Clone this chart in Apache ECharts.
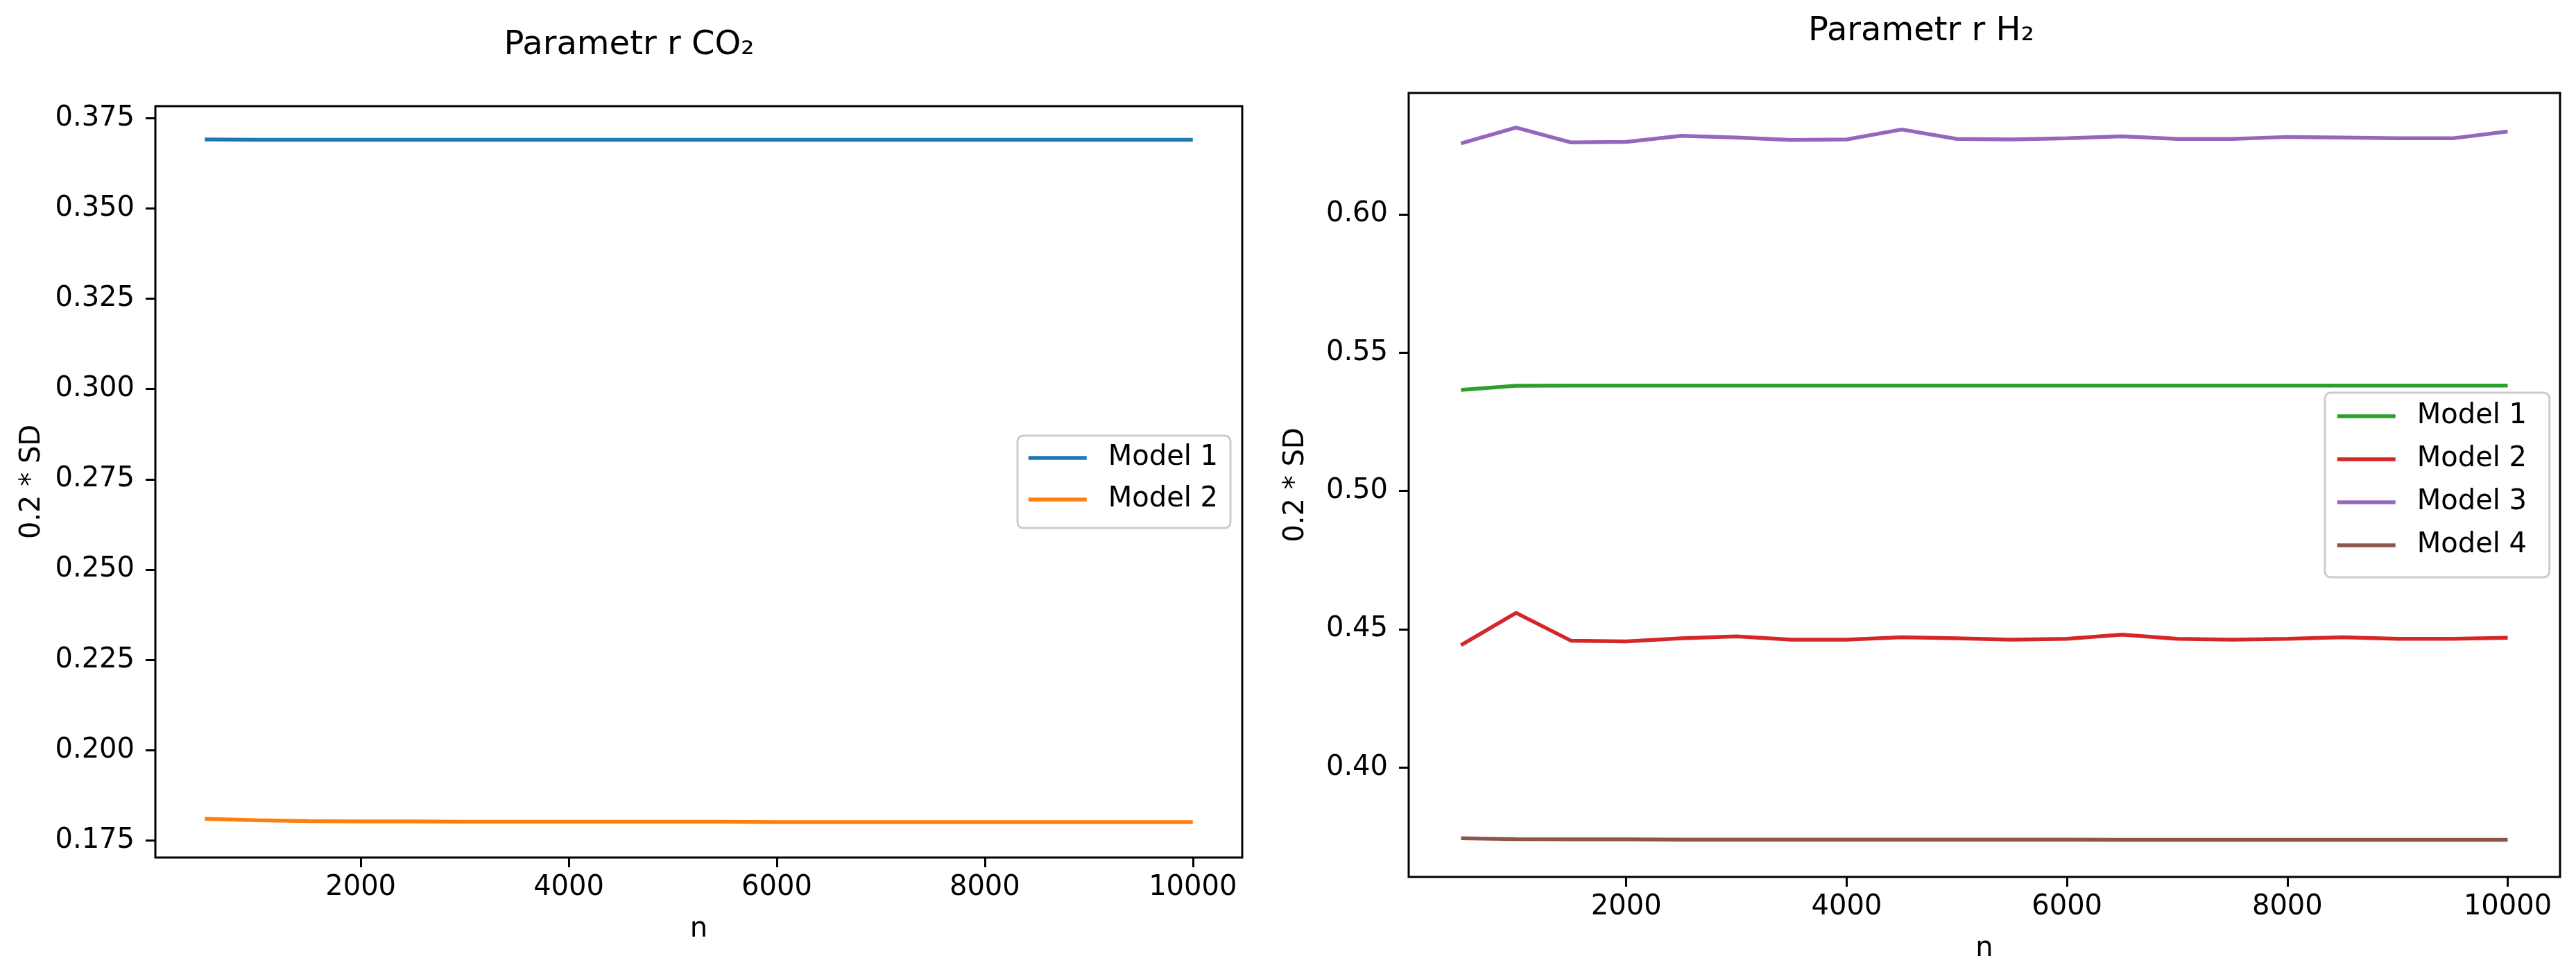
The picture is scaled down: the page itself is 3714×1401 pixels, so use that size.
<!DOCTYPE html>
<html>
<head>
<meta charset="utf-8">
<script src="https://cdn.jsdelivr.net/npm/echarts@6/dist/echarts.min.js"></script>
<style>
html,body{margin:0;padding:0;background:#fff;}
#chart{width:3714px;height:1401px;}
</style>
</head>
<body>
<div id="chart"></div>
<script>
// ---- data ----
const nValues = [500,1000,1500,2000,2500,3000,3500,4000,4500,5000,5500,6000,6500,7000,7500,8000,8500,9000,9500,10000];

const co2Model1 = [0.3691,0.3690,0.3690,0.3690,0.3690,0.3690,0.3690,0.3690,0.3690,0.3690,0.3690,0.3690,0.3690,0.3690,0.3690,0.3690,0.3690,0.3690,0.3690,0.3690];
const co2Model2 = [0.1810,0.1806,0.1804,0.1803,0.1803,0.1802,0.1802,0.1802,0.1802,0.1802,0.1802,0.1801,0.1801,0.1801,0.1801,0.1801,0.1801,0.1801,0.1801,0.1801];

const h2Model1 = [0.5365,0.5380,0.5381,0.5381,0.5381,0.5381,0.5381,0.5381,0.5381,0.5381,0.5381,0.5381,0.5381,0.5381,0.5381,0.5381,0.5381,0.5381,0.5381,0.5381];
const h2Model2 = [0.4442,0.4559,0.4458,0.4456,0.4467,0.4474,0.4462,0.4462,0.4471,0.4467,0.4462,0.4465,0.4480,0.4465,0.4462,0.4465,0.4471,0.4465,0.4465,0.4469];
const h2Model3 = [0.6257,0.6314,0.6260,0.6262,0.6284,0.6278,0.6269,0.6271,0.6307,0.6273,0.6271,0.6275,0.6282,0.6273,0.6273,0.6280,0.6278,0.6275,0.6275,0.6300];
const h2Model4 = [0.3744,0.3741,0.3740,0.3740,0.3739,0.3739,0.3739,0.3739,0.3739,0.3739,0.3739,0.3739,0.3738,0.3738,0.3738,0.3738,0.3738,0.3738,0.3738,0.3738];

const xTicks = [2000,4000,6000,8000,10000];
const yTicksCO2 = [0.175,0.200,0.225,0.250,0.275,0.300,0.325,0.350,0.375];
const yTicksH2 = [0.40,0.45,0.50,0.55,0.60];

const seriesNames = ['Model 1','Model 2','Model 3','Model 4'];
const titles = ['Parametr r CO\u2082','Parametr r H\u2082'];

// ---- chart ----
const FONT = 'DejaVu Sans';
const chart = echarts.init(document.getElementById('chart'), null, {renderer:'canvas', devicePixelRatio:1});

function pairs(ys){ return nValues.map((n,i)=>[n, ys[i]]); }

function xAxisCfg(gridIndex){
  return {
    type:'value', gridIndex, min:25, max:10475,
    name:'n', nameLocation:'middle', nameGap:84,
    nameTextStyle:{fontFamily:FONT, fontSize:40, color:'#000'},
    axisLine:{show:false},
    axisTick:{show:true, inside:false, length:14, customValues:xTicks, lineStyle:{color:'#000', width:3}},
    axisLabel:{show:true, customValues:xTicks, margin:24, fontFamily:FONT, fontSize:40, color:'#000', formatter:v=>String(v)},
    splitLine:{show:false}
  };
}
function yAxisCfg(gridIndex, min, max, ticks, dec, gap){
  return {
    type:'value', gridIndex, min, max,
    name:'0.2 * SD', nameLocation:'middle', nameGap:gap, nameRotate:90,
    nameTextStyle:{fontFamily:FONT, fontSize:40, color:'#000'},
    axisLine:{show:false},
    axisTick:{show:true, inside:false, length:14, customValues:ticks, lineStyle:{color:'#000', width:3}},
    axisLabel:{show:true, customValues:ticks, margin:30, fontFamily:FONT, fontSize:40, color:'#000', formatter:v=>v.toFixed(dec)},
    splitLine:{show:false}
  };
}
function lineSeries(name, data, color, xi){
  return {
    type:'line', name, xAxisIndex:xi, yAxisIndex:xi, data:pairs(data),
    symbol:'none', showSymbol:false, animation:false,
    lineStyle:{color, width:5.5}, itemStyle:{color}
  };
}
function legendCfg(id, left, top, names, gap, pad){
  return {
    id, orient:'vertical', left, top, data:names,
    itemWidth:84, itemHeight:14, itemGap:gap,
    padding:pad,
    backgroundColor:'rgba(255,255,255,0.8)', borderColor:'#cccccc', borderWidth:3, borderRadius:8,
    lineStyle:{width:5.5},
    itemStyle:{opacity:0},
    textStyle:{fontFamily:FONT, fontSize:40, color:'#000', lineHeight:40, padding:[0,0,0,26]},
    selectedMode:false
  };
}

const option = {
  animation:false,
  backgroundColor:'#ffffff',
  title:[
    {text:titles[0], left:907, top:42, textAlign:'center', padding:0,
     textStyle:{fontFamily:FONT, fontSize:48, fontWeight:'normal', color:'#000'}},
    {text:titles[1], left:2770, top:22, textAlign:'center', padding:0,
     textStyle:{fontFamily:FONT, fontSize:48, fontWeight:'normal', color:'#000'}}
  ],
  grid:[
    {left:224, top:153, width:1567, height:1083, show:true, borderColor:'#000', borderWidth:3, backgroundColor:'#fff', containLabel:false},
    {left:2031, top:134, width:1660, height:1130, show:true, borderColor:'#000', borderWidth:3, backgroundColor:'#fff', containLabel:false}
  ],
  xAxis:[xAxisCfg(0), xAxisCfg(1)],
  yAxis:[
    yAxisCfg(0, 0.1703, 0.3783, yTicksCO2, 3, 157),
    yAxisCfg(1, 0.3604, 0.6439, yTicksH2, 2, 142)
  ],
  legend:[
    legendCfg('lg0', 1467, 628, ['Model 1','Model 2'], 20, [12,18,21,13]),
    legendCfg('lg1', 3352, 566, ['Model 1 ','Model 2 ','Model 3','Model 4'], 22, [14,20,26,15])
  ],
  series:[
    lineSeries(seriesNames[0], co2Model1, '#1f77b4', 0),
    lineSeries(seriesNames[1], co2Model2, '#ff7f0e', 0),
    lineSeries(seriesNames[0]+' ', h2Model1, '#2ca02c', 1),
    lineSeries(seriesNames[1]+' ', h2Model2, '#d62728', 1),
    lineSeries(seriesNames[2], h2Model3, '#9467bd', 1),
    lineSeries(seriesNames[3], h2Model4, '#8c564b', 1)
  ]
};
chart.setOption(option);
</script>
</body>
</html>
